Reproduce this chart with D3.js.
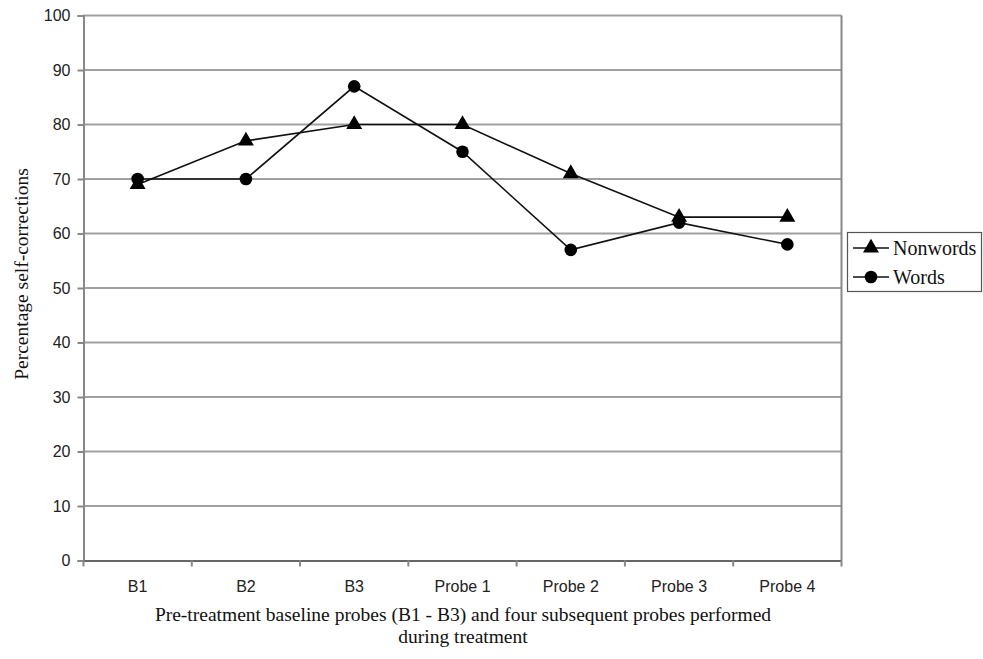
<!DOCTYPE html>
<html><head><meta charset="utf-8">
<script src="https://cdn.jsdelivr.net/npm/d3@7"></script>
<style>body{margin:0;background:#fff}</style>
</head><body>
<svg id="c" width="983" height="659"></svg>
<script>
const categories = ["B1","B2","B3","Probe 1","Probe 2","Probe 3","Probe 4"];
const nonwords = [69,77,80,80,71,63,63];
const words = [70,70,87,75,57,62,58];
const yTicks = [0,10,20,30,40,50,60,70,80,90,100];
const seriesNames = ["Nonwords","Words"];

const svg = d3.select("#c");
const L=83.5, R=841.5, T=15.5, B=560.5;
const x = d3.scaleBand().domain(categories).range([L,R]);
const y = d3.scaleLinear().domain([0,100]).range([B,T]);
const grid="#a0a0a0";
const sans="Liberation Sans, Arial, sans-serif";
const serif="Liberation Serif, Times New Roman, serif";

// gridlines
svg.append("g").selectAll("line").data(yTicks.filter(d=>d>0)).join("line")
  .attr("x1",L).attr("x2",R).attr("y1",d=>y(d)).attr("y2",d=>y(d))
  .attr("stroke",grid).attr("stroke-width",2);

// y axis
const ya = svg.append("g").attr("transform",`translate(${L},0)`)
  .call(d3.axisLeft(y).tickValues(yTicks).tickSize(6).tickPadding(7));
ya.attr("font-size",null).attr("font-family",null);
ya.select(".domain").attr("stroke","#888").attr("stroke-width",2);
ya.selectAll(".tick line").attr("stroke","#888").attr("stroke-width",2);
ya.selectAll("text").style("font-family",sans).style("font-size","16px").attr("fill","#222");

// x axis
const xa = svg.append("g").attr("transform",`translate(0,${B})`)
  .call(d3.axisBottom(x).tickSize(0).tickPadding(20));
xa.attr("font-size",null).attr("font-family",null);
xa.select(".domain").attr("stroke","#666").attr("stroke-width",2);
xa.selectAll("text").style("font-family",sans).style("font-size","16px").attr("fill","#222");
// tick marks at band boundaries
const bounds = categories.map(c=>x(c)).concat([R]);
svg.append("g").selectAll("line").data(bounds).join("line")
  .attr("x1",d=>d).attr("x2",d=>d).attr("y1",B).attr("y2",B+6)
  .attr("stroke","#888").attr("stroke-width",2);

// right border
svg.append("line").attr("x1",R).attr("x2",R).attr("y1",T).attr("y2",B).attr("stroke","#888").attr("stroke-width",2);

const cx = c=>x(c)+x.bandwidth()/2;
const line = d3.line().x((d,i)=>cx(categories[i])).y(d=>y(d));
const tri = d3.symbol().type(d3.symbolTriangle).size(110);
const circ = d3.symbol().type(d3.symbolCircle).size(125);

[[nonwords,tri],[words,circ]].forEach(([data,sym])=>{
  svg.append("path").datum(data).attr("d",line).attr("fill","none").attr("stroke","#111").attr("stroke-width",1.6);
  svg.append("g").selectAll("path").data(data).join("path")
    .attr("d",sym).attr("transform",(d,i)=>`translate(${cx(categories[i])},${y(d)})`).attr("fill","#000");
});

// axis titles
svg.append("text").attr("x",463).attr("y",621).attr("text-anchor","middle")
  .style("font-family",serif).style("font-size","19.5px").attr("fill","#111")
  .text("Pre-treatment baseline probes (B1 - B3) and four subsequent probes performed");
svg.append("text").attr("x",463).attr("y",643).attr("text-anchor","middle")
  .style("font-family",serif).style("font-size","19.5px").attr("fill","#111")
  .text("during treatment");
svg.append("text").attr("transform","translate(28,274) rotate(-90)").attr("text-anchor","middle")
  .style("font-family",serif).style("font-size","19.5px").attr("fill","#111")
  .text("Percentage self-corrections");

// legend
const lg = svg.append("g");
lg.append("rect").attr("x",847.5).attr("y",232.5).attr("width",134).attr("height",59)
  .attr("fill","#fff").attr("stroke","#555").attr("stroke-width",1.2);
seriesNames.forEach((n,i)=>{
  const yy = 248+i*29;
  lg.append("line").attr("x1",853).attr("x2",889).attr("y1",yy).attr("y2",yy).attr("stroke","#111").attr("stroke-width",1.6);
  lg.append("path").attr("d",i===0?tri:circ).attr("transform",`translate(871,${yy})`).attr("fill","#000");
  lg.append("text").attr("x",893).attr("y",yy+7).style("font-family",serif).style("font-size","20px").attr("fill","#111").text(n);
});
</script>
</body></html>
